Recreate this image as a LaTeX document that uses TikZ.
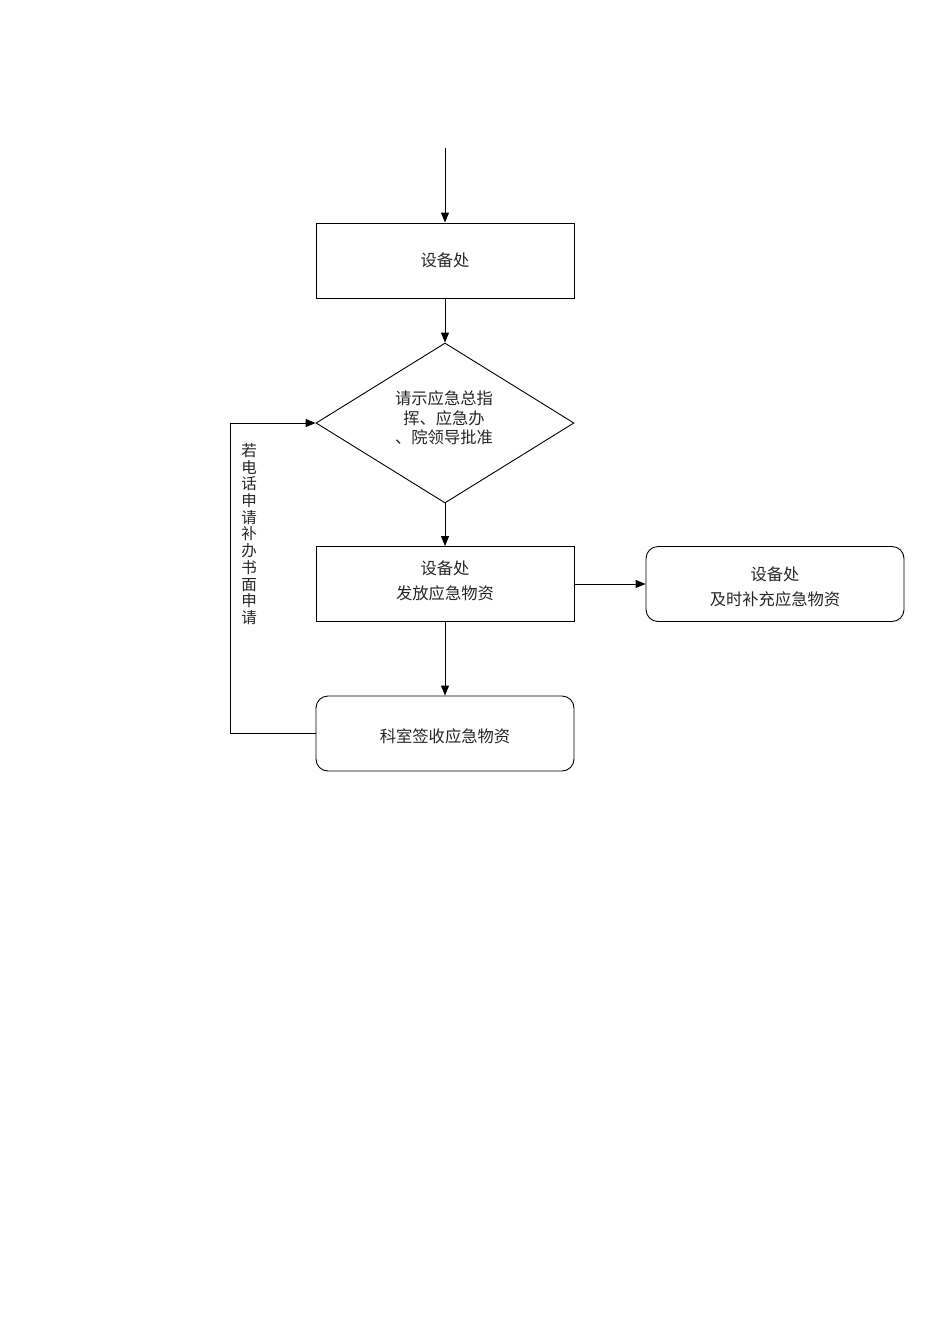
\documentclass[tikz,border=0pt]{standalone}
\usepackage{fontspec}
\newfontfamily\cjk{Noto Sans CJK SC}
\usetikzlibrary{shapes.geometric,arrows.meta}
\begin{document}
\begin{tikzpicture}[x=1pt,y=-1pt,
  every node/.style={font=\cjk\fontsize{16.3}{19.5}\selectfont, text=black!85},
  box/.style={draw=black, line width=0.9pt, minimum width=258pt, minimum height=75pt, inner sep=0pt, align=center},
  rbox/.style={box, rounded corners=12pt},
  dia/.style={draw=black, line width=0.9pt, diamond, aspect=1.6125, minimum width=258pt, minimum height=160pt, inner sep=0pt},
  txt/.style={align=center, inner sep=0pt},
  arr/.style={draw=black, line width=0.9pt, -{Triangle[length=10pt,width=8pt]}}
]
\useasboundingbox[fill=white] (0,0) rectangle (950,1344);
\coordinate (start) at (445,148);
\node[box] (b1) at (445,260.5) {设备处};
\node[dia] (d) at (445,423) {};
\node[txt] (dt) at (444,418) {请示应急总指\\挥、应急办\\、院领导批准};
\node[box] (b2) at (445,584) {};
\node[txt] (b2t) at (445,581) {设备处\\[5pt]发放应急物资};
\node[rbox] (b3) at (775,584) {};
\node[txt] (b3t) at (775,587) {设备处\\[5pt]及时补充应急物资};
\node[rbox] (b4) at (445,733.5) {};
\node[txt] (b4t) at (445,736) {科室签收应急物资};
\node[txt, font=\cjk\fontsize{15.5}{16.7}\selectfont] (lbl) at (249,534) {若\\电\\话\\申\\请\\补\\办\\书\\面\\申\\请};
\coordinate (c1) at (230,733.5);
\coordinate (c2) at (230,423);
\draw[arr] (start) -- (b1.north);
\draw[arr] (b1.south) -- (d.north);
\draw[arr] (d.south) -- (b2.north);
\draw[arr] (b2.east) -- (b3.west);
\draw[arr] (b2.south) -- (b4.north);
\draw[arr] (b4.west) -- (c1) -- (c2) -- (d.west);
\end{tikzpicture}
\end{document}
